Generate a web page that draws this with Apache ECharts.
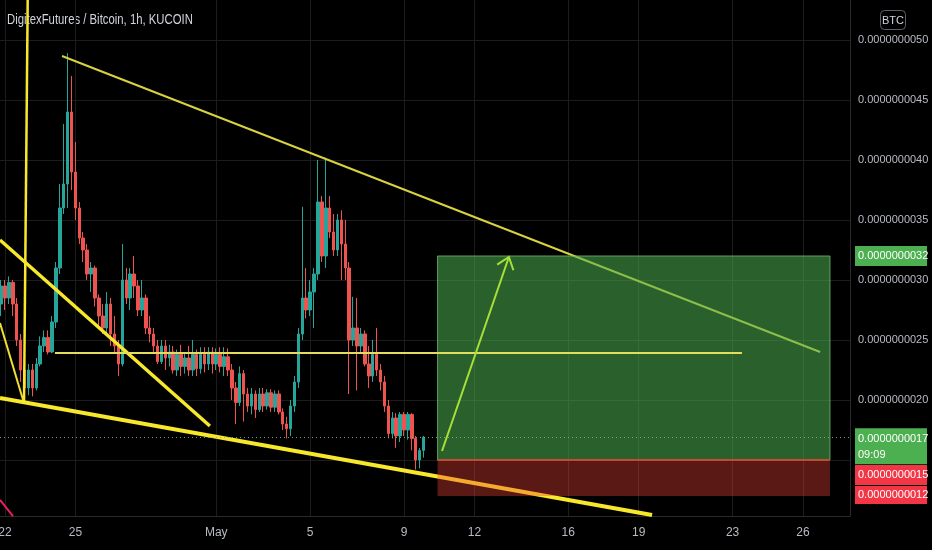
<!DOCTYPE html>
<html><head><meta charset="utf-8">
<script src="https://cdn.jsdelivr.net/npm/echarts@6/dist/echarts.min.js"></script>
<style>html,body{margin:0;padding:0;background:#000;}#c{width:932px;height:550px;}</style>
</head><body><div id="c"></div>
<script>
// Prices are in units of 1e-10 BTC; x is the day of April (May 1 = 31)
const PRICE_UNIT = 1e-10;
const TITLE = 'DigitexFutures / Bitcoin, 1h, KUCOIN';
const CANDLE_START = 21 + 20 / 24;   // first candle: Apr 21 20:00
const CANDLE_STEP = 4 / 24;          // 4-hour candles
const opens  = [28,29.5,28.5,29.8,28,25,22.5,21,22.5,21,23,24.5,25.2,24,26.5,31,36,38,44,39,36,33.5,32.5,30.5,31,28.5,27,26,28,25.5,24.5,23,30,28.5,30.5,29.5,27.5,28.5,26,25.5,24.5,23.2,24.5,23.5,24,22.5,23.8,22.8,23.5,22.5,23.8,22.6,23.8,23,24,23,23.8,22.8,23.6,22.5,21,19.8,22.2,20.5,19.5,20.5,19.2,20.5,19.5,20.6,19.4,20.5,19,18,17.6,19.5,21.5,25.5,28.5,27.5,29,30.5,36.5,32,36,34,32.5,35,33,31,25,26,24.5,25.5,23,22,23.8,22.5,21.5,19.5,17.2,18.5,17,18.8,17.5,18.8,16.8,15,15.8];
const closes = [29.5,28.5,29.8,28,25,22.5,21,22.5,21,23,24.5,25.2,24,26.5,31,36,38,44,39,36,33.5,32.5,30.5,31,28.5,27,26,28,25.5,24.5,23,30,28.5,30.5,29.5,27.5,28.5,26,25.5,24.5,23.2,24.5,23.5,24,22.5,23.8,22.8,23.5,22.5,23.8,22.6,23.8,23,24,23,23.8,22.8,23.6,22.5,21,19.8,22.2,20.5,19.5,20.5,19.2,20.5,19.5,20.6,19.4,20.5,19,18,17.6,19.5,21.5,25.5,28.5,27.5,29,30.5,36.5,32,36,34,32.5,35,33,31,25,26,24.5,25.5,23,22,23.8,22.5,21.5,19.5,17.2,18.5,17,18.8,17.5,18.8,16.8,15,15.8,16.9];
const lows   = [27,27.5,28,27,24.5,21.5,20.6,20.4,20.3,20.8,22.8,24,23.8,23.9,26,30.5,35.5,36,37.5,35,33,31.5,30,29,27.8,26,25.5,25.5,24.5,24,22,22.8,28,27.5,28.5,27,27,25.5,24.8,24,23,23,22.5,22.8,22.2,22,22,22.2,22,22,22,22.2,22.3,22.5,22.2,22.5,22.3,22,22,20,18,19.5,18.2,19,18.8,18.5,19,19,19.2,19,19,18.8,17.5,16.8,17,19,21,25,26.8,27,26,30,31.5,31,33.5,32,32,30,30,20.5,24.5,20.8,24,22.8,21,21.5,22,20.8,19,16.8,16.8,16,16.5,17,16.7,15.8,14.2,14.3,15.2];
const highs  = [30,30,30.3,30,28.5,25.5,23,23,23,23.5,25.3,25.8,25.8,27,31.5,38,43,48.9,47,41.5,36.5,34,33,31.5,31.2,28.8,28,29,28.5,27,25,33,31,31,32,30,30,28.8,27,26,25,25,25,24.6,24.5,24.2,24.6,24,24.5,25,24.2,24.4,24.4,24.4,24.4,24.3,24.4,24.4,24.3,23,21.5,22.8,22.5,21,21,20.8,21,21,20.9,20.9,20.8,20.8,19.3,18.6,20,22,26,36.1,31,30,31,40,37,40.2,37,35.5,35.5,35.8,35,31.5,28.6,28.5,26,25.8,24.5,25,26,23,22,20,19,18.9,19,19,19,18.9,17,16,17];

const dateTicks  = [22, 25, 31, 35, 39, 42, 46, 49, 53, 56];
const dateLabels = ['22', '25', 'May', '5', '9', '12', '16', '19', '23', '26'];
const priceTicks = [10, 15, 20, 25, 30, 35, 40, 45, 50];
const priceLabelTicks = [20, 25, 30, 35, 40, 45, 50];

// drawings: [day, price] end points
const upperTrend   = [[24.43, 48.67], [56.73, 24.0]];
const supportLine  = [[24.13, 23.92], [53.4, 23.92]];
const lowerTrend   = [[21.787, 20.17], [49.57, 10.42]];
const fallingTrend = [[21.787, 33.33], [30.73, 17.83]];
const verticalRay  = [[22.81, 19.83], [22.967, 53.33]];
const shortTrend   = [[21.787, 26.42], [22.77, 20.0]];
const pinkLine     = [[21.787, 11.67], [22.34, 10.33]];
const arrowLine    = [40.62, 15.75, 43.47, 31.92];
const position     = [40.43, 57.15, 32, 15, 12]; // start, end, target, entry, stop
const countdown = '09:09';

const X_MIN = 21.787, X_MAX = 58.003, Y_MIN = 10.333, Y_MAX = 53.333;
const FONT = '"Liberation Sans", Arial, sans-serif';
const fmtPrice = v => (v * PRICE_UNIT).toFixed(10);

const candles = opens.map((o, i) => [CANDLE_START + i * CANDLE_STEP, o, closes[i], lows[i], highs[i]]);
const lastClose = closes[closes.length - 1];

function seg(data, color, width, z) {
  return { type: 'line', data: data, symbol: 'none', silent: true, animation: false, z: z,
    lineStyle: { color: color, width: width } };
}

// price tags on the right axis: [price, kind]
const tags = [[position[2], 0], [lastClose, 1], [position[3], 2], [position[4], 3]];

const chart = echarts.init(document.getElementById('c'), null, { renderer: 'canvas' });
chart.setOption({
  backgroundColor: '#000000',
  animation: false,
  graphic: [
    { type: 'text', left: 7, top: 13, scaleX: 0.81,
      style: { text: TITLE, fill: '#d1d4dc', font: '14px ' + FONT } },
    { type: 'group', left: 878, top: 8, children: [
      { type: 'rect', shape: { x: 0, y: 0, width: 25, height: 19, r: 4 }, style: { fill: 'none', stroke: '#5d606b', lineWidth: 1 } },
      { type: 'text', style: { x: 12.5, y: 10, text: 'BTC', fill: '#d1d4dc', font: '11px ' + FONT, align: 'center', verticalAlign: 'middle' } }
    ] }
  ],
  grid: { left: 0, right: 82, top: 0, bottom: 34, outerBoundsMode: 'none', containLabel: false },
  xAxis: {
    type: 'value', min: X_MIN, max: X_MAX,
    axisLine: { show: true, lineStyle: { color: '#2a2a2a' } },
    axisTick: { show: false, customValues: dateTicks },
    splitLine: { show: true, lineStyle: { color: '#1c1c1c' } },
    axisLabel: { customValues: dateTicks, color: '#b8bbc4', fontSize: 12, fontFamily: FONT, margin: 11,
      formatter: v => dateLabels[dateTicks.indexOf(v)] }
  },
  yAxis: {
    type: 'value', position: 'right', min: Y_MIN, max: Y_MAX, scale: true,
    axisLine: { show: true, lineStyle: { color: '#2a2a2a' } },
    axisTick: { show: false, customValues: priceTicks },
    splitLine: { show: true, lineStyle: { color: '#1c1c1c' } },
    axisLabel: { customValues: priceLabelTicks, color: '#b8bbc4', fontSize: 11, fontFamily: FONT, margin: 8,
      formatter: v => fmtPrice(v) }
  },
  series: [
    {
      type: 'candlestick', data: candles, barWidth: 3, z: 2, silent: true,
      itemStyle: { color: '#26a69a', color0: '#ef5350', borderColor: '#26a69a', borderColor0: '#ef5350', borderWidth: 1 },
      markLine: { silent: true, symbol: ['none', 'none'], animation: false, label: { show: false },
        lineStyle: { type: [1, 3], color: 'rgba(130,180,130,0.9)', width: 1 },
        data: [{ yAxis: lastClose }] }
    },
    seg(upperTrend, '#d9d23f', 2, 3),
    seg(lowerTrend, '#f7e82c', 4, 3),
    seg(fallingTrend, '#f7e82c', 3.5, 3),
    seg(verticalRay, '#f7e82c', 2.5, 3),
    seg(shortTrend, '#f0e030', 2, 3),
    seg(pinkLine, '#e91e63', 2, 3),
    {
      type: 'custom', z: 4, silent: true, clip: true,
      data: [position], encode: { x: [0, 1], y: [2, 3, 4] },
      renderItem: (params, api) => {
        const x0 = api.value(0), x1 = api.value(1);
        const tl = api.coord([x0, api.value(2)]), em = api.coord([x1, api.value(3)]), br = api.coord([x1, api.value(4)]);
        const ml = api.coord([x0, api.value(3)]);
        return { type: 'group', children: [
          { type: 'rect', shape: { x: tl[0], y: tl[1], width: em[0] - tl[0], height: em[1] - tl[1] },
            style: { fill: 'rgba(76,175,80,0.55)', stroke: 'rgba(110,190,110,0.8)', lineWidth: 1 } },
          { type: 'rect', shape: { x: ml[0], y: ml[1], width: br[0] - ml[0], height: br[1] - ml[1] },
            style: { fill: 'rgba(244,67,54,0.37)' } },
          { type: 'line', shape: { x1: ml[0], y1: ml[1], x2: em[0], y2: em[1] }, style: { stroke: '#e0452f', lineWidth: 1.5 } }
        ] };
      }
    },
    seg(supportLine, '#e4dc5c', 2, 5),
    {
      type: 'custom', z: 6, silent: true,
      data: [arrowLine], encode: { x: [0, 2], y: [1, 3] },
      renderItem: (params, api) => {
        const p1 = api.coord([api.value(0), api.value(1)]);
        const p2 = api.coord([api.value(2), api.value(3)]);
        const ang = Math.atan2(p1[1] - p2[1], p1[0] - p2[0]);
        const L = 14, a = 0.66;
        const w1 = [p2[0] + L * Math.cos(ang + a), p2[1] + L * Math.sin(ang + a)];
        const w2 = [p2[0] + L * Math.cos(ang - a), p2[1] + L * Math.sin(ang - a)];
        const st = { stroke: '#a8e03a', lineWidth: 2, fill: null };
        return { type: 'group', children: [
          { type: 'line', shape: { x1: p1[0], y1: p1[1], x2: p2[0], y2: p2[1] }, style: st },
          { type: 'polyline', shape: { points: [w1, p2, w2] }, style: st }
        ] };
      }
    },
    {
      type: 'custom', z: 10, silent: true, clip: false,
      data: tags, encode: { y: 0 },
      renderItem: (params, api) => {
        const cs = params.coordSys;
        const kind = api.value(1);
        const price = api.value(0);
        const y = api.coord([X_MIN, price])[1];
        const left = cs.x + cs.width + 5;
        const bg = kind <= 1 ? '#4caf50' : '#f23645';
        let top, h;
        if (kind === 1) { top = y - 9; h = 36; }
        else if (kind === 2) { top = y + 5; h = 20; }
        else if (kind === 3) { top = y - 10; h = 18; }
        else { top = y - 10; h = 20; }
        const text = kind === 1 ? fmtPrice(price) + '\n' + countdown : fmtPrice(price);
        return { type: 'group', children: [
          { type: 'rect', shape: { x: left, y: top, width: 72, height: h }, style: { fill: bg } },
          { type: 'text', style: { x: left + 3, y: kind === 1 ? top + 3 : top + h / 2, text: text,
              fill: '#ffffff', font: '11px ' + FONT, lineHeight: 16,
              verticalAlign: kind === 1 ? 'top' : 'middle', align: 'left' } }
        ] };
      }
    }
  ]
});
</script></body></html>
